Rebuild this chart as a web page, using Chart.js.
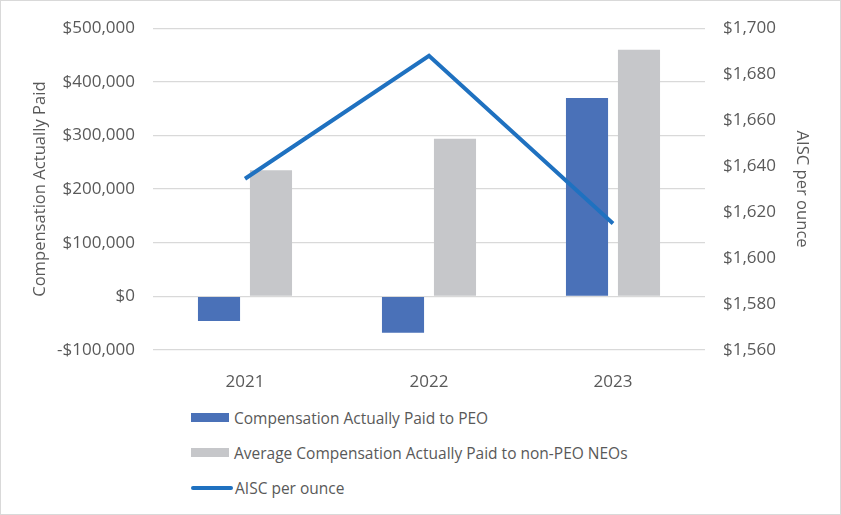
<!DOCTYPE html>
<html>
<head>
<meta charset="utf-8">
<script src="https://cdn.jsdelivr.net/npm/chart.js@4.4.1/dist/chart.umd.min.js"></script>
<style>
  html, body { margin: 0; padding: 0; background: #fff; }
  #wrap { position: relative; width: 841px; height: 515px; font-family: "Open Sans", sans-serif; }
  #chart { position: absolute; left: 0; top: 0; }
  #frame { position: absolute; left: 0; top: 0; width: 839px; height: 513px; border: 1px solid #d9d9d9; pointer-events: none; }
  #legend { position: absolute; left: 191px; top: 400px; color: #595959; font-size: 15.5px; }
  .item { display: flex; align-items: center; height: 35px; }
  .swatch { width: 38px; height: 9px; margin-right: 5px; }
  .lineSwatch { width: 42px; height: 4px; border-radius: 2px; margin-right: 2px; }
</style>
</head>
<body>
<div id="wrap">
  <canvas id="chart" width="841" height="400"></canvas>
  <div id="legend"></div>
  <div id="frame"></div>
</div>
<script>
// chart data
const years = ['2021', '2022', '2023'];
const capPeo = [-46000, -68000, 370000];
const capNonPeo = [235000, 294000, 460000];
const aiscPerOunce = [1634.5, 1688, 1615];

const seriesNames = [
  'Compensation Actually Paid to PEO',
  'Average Compensation Actually Paid to non-PEO NEOs',
  'AISC per ounce'
];
const colors = ['#4a71b8', '#c6c7ca', '#1f71c0'];

const textColor = '#595959';
const gridColor = '#d9d9d9';

function money(v) {
  const s = '$' + Math.abs(v).toLocaleString('en-US');
  return v < 0 ? '-' + s : s;
}

const ctx = document.getElementById('chart').getContext('2d');
new Chart(ctx, {
  type: 'bar',
  data: {
    labels: years,
    datasets: [
      {
        type: 'line',
        label: seriesNames[2],
        data: aiscPerOunce,
        yAxisID: 'yRight',
        borderColor: colors[2],
        borderWidth: 4,
        pointRadius: 0,
        tension: 0,
        order: 0
      },
      {
        label: seriesNames[0],
        data: capPeo,
        backgroundColor: colors[0],
        yAxisID: 'y',
        categoryPercentage: 0.565,
        barPercentage: 0.81,
        order: 1
      },
      {
        label: seriesNames[1],
        data: capNonPeo,
        backgroundColor: colors[1],
        yAxisID: 'y',
        categoryPercentage: 0.565,
        barPercentage: 0.81,
        order: 1
      }
    ]
  },
  options: {
    responsive: false,
    animation: false,
    layout: { padding: { left: 0, right: 0, top: 23, bottom: 0 } },
    plugins: {
      legend: { display: false },
      tooltip: { enabled: false }
    },
    scales: {
      x: {
        grid: { display: false },
        border: { display: false },
        ticks: { color: textColor, font: { family: 'Open Sans', size: 17 }, padding: 14 },
        afterFit: scale => { scale.height = 50; }
      },
      y: {
        position: 'left',
        min: -100000,
        max: 500000,
        grid: { color: gridColor, lineWidth: 1.3, drawTicks: false },
        border: { display: false },
        ticks: {
          stepSize: 100000,
          color: textColor,
          font: { family: 'Open Sans', size: 17 },
          padding: 18,
          callback: v => money(v)
        },
        title: {
          display: true,
          text: 'Compensation Actually Paid',
          color: textColor,
          font: { family: 'Open Sans', size: 16.6 },
          padding: { top: 30 }
        },
        afterFit: scale => { scale.width = 153; }
      },
      yRight: {
        position: 'right',
        min: 1560,
        max: 1700,
        grid: { display: false, drawTicks: false },
        border: { display: false },
        ticks: {
          stepSize: 20,
          color: textColor,
          font: { family: 'Open Sans', size: 17 },
          padding: 18,
          callback: v => money(v)
        },
        title: {
          display: true,
          text: 'AISC per ounce',
          color: textColor,
          font: { family: 'Open Sans', size: 16.6 },
          padding: { top: 29 }
        },
        afterFit: scale => { scale.width = 136; }
      }
    }
  }
});

// legend, one entry per line as in the original
const legend = document.getElementById('legend');
[0, 1, 2].forEach(i => {
  const item = document.createElement('div');
  item.className = 'item';
  const sw = document.createElement('span');
  sw.className = i === 2 ? 'lineSwatch' : 'swatch';
  sw.style.background = colors[i];
  const label = document.createElement('span');
  label.textContent = seriesNames[i];
  item.appendChild(sw);
  item.appendChild(label);
  legend.appendChild(item);
});
</script>
</body>
</html>
